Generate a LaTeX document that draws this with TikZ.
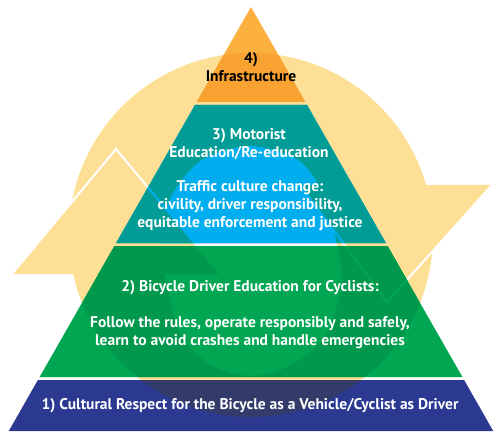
\documentclass[tikz,border=0pt]{standalone}
\usepackage{fontspec}
\setmainfont{PT Sans}
\definecolor{ylw}{HTML}{FDE096}
\definecolor{org}{HTML}{FBB040}
\definecolor{orgM}{HTML}{F8A232}
\definecolor{cyn}{HTML}{00AEEF}
\definecolor{cynM}{HTML}{009C95}
\definecolor{grn}{HTML}{00A651}
\definecolor{grnM}{HTML}{00984C}
\definecolor{nvy}{HTML}{2B3990}
\definecolor{nvyM}{HTML}{333B6B}
\def\bgdisk{(251,235) circle[radius=182]}
\def\bgheads{(12,274)--(116,149)--(220,274)--cycle (300,185)--(492,185)--(387,302)--cycle}
\def\bgedges{(12,274)--(116,149)--(220,274) (300,185)--(387,302)--(492,185)}
\def\bghole{plot[smooth cycle] coordinates{(168,290) (161,240) (172,195) (202,160) (250,146) (298,160) (324,195) (336,240) (341,285) (326,335) (291,365) (251,376) (211,365) (181,336)}}
\def\tierO{(251,7)--(305.3,102)--(196.7,102)--cycle}
\def\tierT{(195,105)--(307,105)--(385.8,243)--(116.2,243)--cycle}
\def\tierG{(114.5,246)--(387.5,246)--(462.4,377)--(39.6,377)--cycle}
\def\tierN{(37.9,380)--(464.1,380)--(493.2,431)--(8.8,431)--cycle}
\newcommand\tierlayer[3]{%
  \fill[#2] #1;
  \begin{scope}
    \clip #1;
    \fill[#3] \bgdisk;
    \fill[#2] \bghole;
    \fill[#3] \bgheads;
    \draw[#2, edgeline] \bgedges;
  \end{scope}}
\begin{document}
\begin{tikzpicture}[x=1pt,y=-1pt,
  edgeline/.style={line width=2, line join=miter},
  lbl/.style={font=\bfseries\fontsize{15.5}{18}\selectfont, text=white, align=center, inner sep=0},
  lblk/.style={lbl, text=black}]
\useasboundingbox (0,0) rectangle (500,446);
% background cycle arrows
\fill[ylw] \bgdisk;
\fill[white] \bghole;
\fill[ylw] \bgheads;
\draw[white, edgeline] \bgedges;
% pyramid tiers
\tierlayer{\tierO}{org}{orgM}
\tierlayer{\tierT}{cyn}{cynM}
\tierlayer{\tierG}{grn}{grnM}
\tierlayer{\tierN}{nvy}{nvyM}
% labels
\node[lblk] (t4) at (251,67) {4)\\Infrastructure};
\node[lbl] (t3a) at (249,144) {3) Motorist\\Education/Re-education};
\node[lbl] (t3b) at (250,206) {Traffic culture change:\\civility, driver responsibility,\\equitable enforcement and justice};
\node[lbl] (t2a) at (250,288) {2) Bicycle Driver Education for Cyclists:};
\node[lbl] (t2b) at (250,333) {Follow the rules, operate responsibly and safely,\\learn to avoid crashes and handle emergencies};
\node[lbl] (t1) at (250,406) {1) Cultural Respect for the Bicycle as a Vehicle/Cyclist as Driver};
\end{tikzpicture}
\end{document}
